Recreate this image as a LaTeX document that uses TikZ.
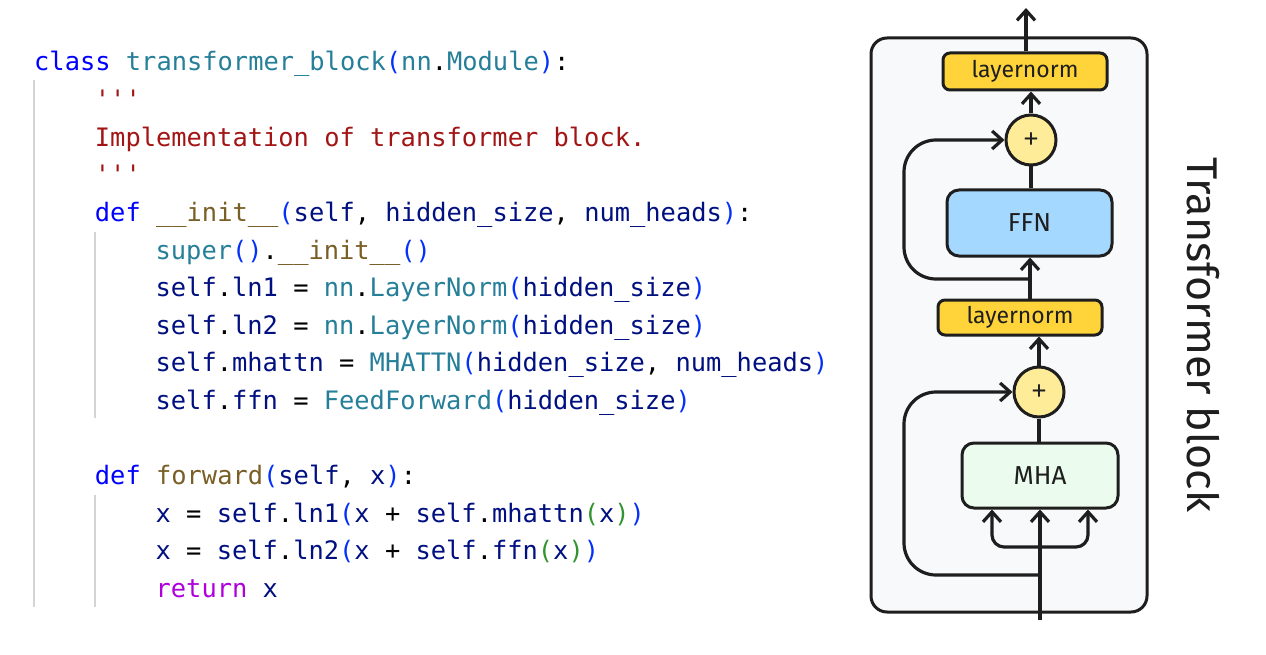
\documentclass[tikz,border=0pt]{standalone}
\usepackage{fontspec}
\usetikzlibrary{arrows.meta}
\newfontfamily\codefont{DejaVu Sans Mono}
\newfontfamily\handfont{Fira Sans}
\definecolor{ckw}{HTML}{0000FF}
\definecolor{ccls}{HTML}{267F99}
\definecolor{cstr}{HTML}{A31515}
\definecolor{cfn}{HTML}{795E26}
\definecolor{cvar}{HTML}{001080}
\definecolor{cbra}{HTML}{0431FA}
\definecolor{cbrb}{HTML}{319331}
\definecolor{cret}{HTML}{AF00DB}
\definecolor{guide}{HTML}{D4D4D4}
\definecolor{ink}{HTML}{1E1E1E}
\definecolor{lnfill}{HTML}{FFD43B}
\definecolor{addfill}{HTML}{FFEC99}
\definecolor{ffnfill}{HTML}{A5D8FF}
\definecolor{mhafill}{HTML}{EBFBEE}
\definecolor{framefill}{HTML}{F8F9FA}
\newcommand{\K}[1]{\textcolor{ckw}{#1}}
\newcommand{\C}[1]{\textcolor{ccls}{#1}}
\newcommand{\Sg}[1]{\textcolor{cstr}{#1}}
\newcommand{\F}[1]{\textcolor{cfn}{#1}}
\newcommand{\V}[1]{\textcolor{cvar}{#1}}
\newcommand{\Pa}[1]{\textcolor{cbra}{#1}}
\newcommand{\Pb}[1]{\textcolor{cbrb}{#1}}
\newcommand{\Q}{\char39\char39\char39}
\tikzset{
  codeline/.style={anchor=base west, inner sep=0pt, font=\codefont\fontsize{25.4}{30}\selectfont},
  guideline/.style={draw=guide, line width=1.6pt},
  frame/.style={draw=ink, line width=3pt, fill=framefill, rounded corners=16pt},
  blockbox/.style={draw=ink, line width=3pt, font=\handfont\fontsize{23}{26}\selectfont, text=ink},
  addnode/.style={circle, draw=ink, line width=3pt, fill=addfill, minimum size=50pt, inner sep=0pt, text=ink},
  conn/.style={draw=ink, line width=3.2pt},
  arr/.style={conn, -{Straight Barb[length=10pt, width=18pt]}},
}
\begin{document}
\begin{tikzpicture}[x=1pt, y=-1pt]
\useasboundingbox (0,0) rectangle (1266,655);
\fill[white] (0,0) rectangle (1266,655);
% indent guides
\draw[guideline] (34,80) -- (34,607);
\draw[guideline] (95,232) -- (95,418);
\draw[guideline] (95,495) -- (95,607);
% code
\def\cw{15.18}
\node[codeline] (l1) at (34,71) {\K{class} \C{transformer\_block}\Pa{(}\C{nn}.\C{Module}\Pa{)}:};
\node[codeline] (l2) at (34+4*\cw,108.6) {\Sg{\Q}};
\node[codeline] (l3) at (34+4*\cw,146.2) {\Sg{Implementation of transformer block.}};
\node[codeline] (l4) at (34+4*\cw,183.8) {\Sg{\Q}};
\node[codeline] (l5) at (34+4*\cw,221.4) {\K{def} \F{\_\_init\_\_}\Pa{(}\V{self}, \V{hidden\_size}, \V{num\_heads}\Pa{)}:};
\node[codeline] (l6) at (34+8*\cw,259) {\C{super}\Pa{()}.\F{\_\_init\_\_}\Pa{()}};
\node[codeline] (l7) at (34+8*\cw,296.6) {\V{self}.\V{ln1} = \C{nn}.\C{LayerNorm}\Pa{(}\V{hidden\_size}\Pa{)}};
\node[codeline] (l8) at (34+8*\cw,334.2) {\V{self}.\V{ln2} = \C{nn}.\C{LayerNorm}\Pa{(}\V{hidden\_size}\Pa{)}};
\node[codeline] (l9) at (34+8*\cw,371.8) {\V{self}.\V{mhattn} = \C{MHATTN}\Pa{(}\V{hidden\_size}, \V{num\_heads}\Pa{)}};
\node[codeline] (l10) at (34+8*\cw,409.4) {\V{self}.\V{ffn} = \C{FeedForward}\Pa{(}\V{hidden\_size}\Pa{)}};
\node[codeline] (l12) at (34+4*\cw,484.6) {\K{def} \F{forward}\Pa{(}\V{self}, \V{x}\Pa{)}:};
\node[codeline] (l13) at (34+8*\cw,522.2) {\V{x} = \V{self}.\V{ln1}\Pa{(}\V{x} + \V{self}.\V{mhattn}\Pb{(}\V{x}\Pb{)}\Pa{)}};
\node[codeline] (l14) at (34+8*\cw,559.8) {\V{x} = \V{self}.\V{ln2}\Pa{(}\V{x} + \V{self}.\V{ffn}\Pb{(}\V{x}\Pb{)}\Pa{)}};
\node[codeline] (l15) at (34+8*\cw,597.4) {\textcolor{cret}{return} \V{x}};
% diagram
\node[frame, minimum width=276pt, minimum height=574pt] (blk) at (1009,325) {};
\node[blockbox, fill=lnfill, rounded corners=7pt, minimum width=164pt, minimum height=37pt] (lnb) at (1025,71.5) {layernorm};
\node[addnode] (addb) at (1031,140) {\codefont\fontsize{24}{26}\selectfont +};
\node[blockbox, fill=ffnfill, rounded corners=12pt, minimum width=165pt, minimum height=66pt, font=\handfont\fontsize{26}{28}\selectfont] (ffn) at (1029.5,223) {FFN};
\node[blockbox, fill=lnfill, rounded corners=7pt, minimum width=164pt, minimum height=35pt] (lna) at (1020,317.5) {layernorm};
\node[addnode] (adda) at (1039,392) {\codefont\fontsize{24}{26}\selectfont +};
\node[blockbox, fill=mhafill, rounded corners=12pt, minimum width=156pt, minimum height=65pt, font=\handfont\fontsize{26}{28}\selectfont] (mha) at (1040,475.5) {MHA};
\node[rotate=-90, inner sep=0pt, font=\handfont\fontsize{43}{45}\selectfont, text=ink] (lbl) at (1203,335) {Transformer block};
\coordinate (out) at (1026,8);
\coordinate (inp) at (1040,620);
\coordinate (lx) at (904,0);
\coordinate (s2) at (1030,279);
\coordinate (s1) at (1040,575);
\coordinate (bra) at (1040,547);
% connectors
\draw[arr] (lnb.north -| out) -- (out);
\draw[arr] (addb.north) -- (addb.north |- lnb.south);
\draw[conn] (ffn.north -| addb.south) -- (addb.south);
\draw[arr] (lna.north -| s2) -- (s2 |- ffn.south);
\draw[arr, rounded corners=32pt] (s2) -- (s2 -| lx) -- (lx |- addb.west) -- (addb.west);
\draw[arr] (adda.north) -- (adda.north |- lna.south);
\draw[conn] (mha.north -| adda.south) -- (adda.south);
\draw[arr] (inp) -- (mha.south);
\draw[arr, rounded corners=12pt] (bra) -| ([xshift=-48pt]mha.south);
\draw[arr, rounded corners=12pt] (bra) -| ([xshift=48pt]mha.south);
\draw[arr, rounded corners=32pt] (s1) -- (s1 -| lx) -- (lx |- adda.west) -- (adda.west);
\end{tikzpicture}
\end{document}
